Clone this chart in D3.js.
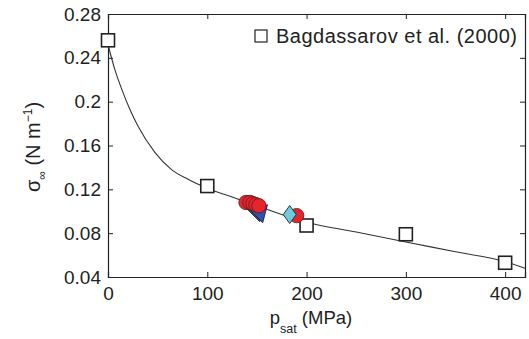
<!DOCTYPE html>
<html>
<head>
<meta charset="utf-8">
<script src="https://cdn.jsdelivr.net/npm/d3@7"></script>
<style>
body{margin:0;background:#fff}
text{font-family:"Liberation Sans",Arial,sans-serif;fill:#222}
</style>
</head>
<body>
<div></div>
<script>
// data
const xTicks = [0, 100, 200, 300, 400]
const yTicks = [0.04, 0.08, 0.12, 0.16, 0.2, 0.24, 0.28]

const bagP = [0, 100, 200, 300, 400]
const bagS = [0.256, 0.123, 0.087, 0.079, 0.053]

const fitP = [0, 7, 14, 22, 30, 47, 64, 81, 100, 125, 150, 200, 250, 300, 350, 400, 420]
const fitS = [0.252, 0.229, 0.211, 0.193, 0.178, 0.154, 0.138, 0.129, 0.121, 0.113, 0.105, 0.090, 0.081, 0.072, 0.063, 0.054, 0.048]

const blueP = [150, 153]
const blueS = [0.100, 0.099]
const redP = [139, 143, 146, 149, 152, 190]
const redS = [0.108, 0.108, 0.107, 0.106, 0.105, 0.096]
const cyanP = [183]
const cyanS = [0.097]

const W = 529, H = 339
const margin = {top:14, right:4, bottom:62, left:108}
const pw = W - margin.left - margin.right
const ph = H - margin.top - margin.bottom

function translate(x,y){return `translate(${x}, ${y})`}

const svg = d3.select("div").append("svg").attr("width", W).attr("height", H)
const g = svg.append("g").attr("transform", translate(margin.left, margin.top))

const x = d3.scaleLinear().domain([0, 420]).range([0, pw])
const y = d3.scaleLinear().domain([0.04, 0.28]).range([ph, 0])

// axes, ticks pointing inward, mirrored
const fmt = d => d3.format("")(+d.toFixed(2))
g.append("g").attr("transform", translate(0, ph))
  .call(d3.axisBottom(x).tickValues(xTicks).tickSize(-5).tickPadding(10))
g.append("g").attr("transform", translate(0, 0))
  .call(d3.axisTop(x).tickValues(xTicks).tickSize(-5).tickFormat(""))
g.append("g")
  .call(d3.axisLeft(y).tickValues(yTicks).tickSize(-5).tickPadding(7).tickFormat(fmt))
g.append("g").attr("transform", translate(pw, 0))
  .call(d3.axisRight(y).tickValues(yTicks).tickSize(-5).tickFormat(""))
g.selectAll(".domain").attr("stroke", "#222").attr("stroke-width", 1.2)
g.selectAll(".tick line").attr("stroke", "#222")
g.selectAll(".tick text").attr("font-size", 19).attr("fill", "#222")
  .attr("font-family", "Liberation Sans, Arial, sans-serif")

// fitted curve
const line = d3.line().x(d => x(d[0])).y(d => y(d[1])).curve(d3.curveMonotoneX)
g.append("path").datum(d3.zip(fitP, fitS))
  .attr("d", line).attr("fill", "none").attr("stroke", "#333").attr("stroke-width", 1.1)

// Bagdassarov squares
const sq = 13
g.selectAll("rect.bag").data(d3.zip(bagP, bagS)).join("rect").attr("class", "bag")
  .attr("x", d => x(d[0]) - sq/2).attr("y", d => y(d[1]) - sq/2)
  .attr("width", sq).attr("height", sq)
  .attr("fill", "#fff").attr("stroke", "#222").attr("stroke-width", 1.6)

// blue triangles (pointing down), drawn under the circles
const tri = d3.symbol().type(d3.symbolTriangle).size(150)
g.selectAll("path.blue").data(d3.zip(blueP, blueS)).join("path").attr("class", "blue")
  .attr("d", tri)
  .attr("transform", d => translate(x(d[0]), y(d[1])) + " rotate(165)")
  .attr("fill", "#3452a3").attr("stroke", "#1a2040").attr("stroke-width", 0.8)

// red circles
g.selectAll("circle.red").data(d3.zip(redP, redS)).join("circle").attr("class", "red")
  .attr("cx", d => x(d[0])).attr("cy", d => y(d[1])).attr("r", 7.2)
  .attr("fill", "#e5242b").attr("stroke", "#5a1a1a").attr("stroke-width", 0.8)

// cyan diamond
g.selectAll("path.cyan").data(d3.zip(cyanP, cyanS)).join("path").attr("class", "cyan")
  .attr("d", d => `M0,-9L6.5,0L0,9L-6.5,0Z`)
  .attr("transform", d => translate(x(d[0]), y(d[1])))
  .attr("fill", "#6dcbdb").attr("stroke", "#1f3a45").attr("stroke-width", 1)

// legend
svg.append("rect").attr("x", 255).attr("y", 30).attr("width", 12).attr("height", 12)
  .attr("fill", "#fff").attr("stroke", "#222").attr("stroke-width", 1.2)
svg.append("text").attr("x", 276).attr("y", 43).attr("font-size", 20)
  .attr("textLength", 241).text("Bagdassarov et al. (2000)")

// x label
const xl = svg.append("text").attr("x", 311).attr("y", 324).attr("font-size", 18.5).attr("text-anchor", "middle")
xl.append("tspan").text("p")
xl.append("tspan").attr("font-size", 12.5).attr("dy", 9).text("sat")
xl.append("tspan").attr("dy", -9).text(" (MPa)")

// y label
const yl = svg.append("text").attr("transform", translate(40, 147) + " rotate(-90)")
  .attr("font-size", 20).attr("text-anchor", "middle")
yl.append("tspan").text("σ")
yl.append("tspan").attr("font-size", 12).attr("dy", 6).text("∞")
yl.append("tspan").attr("dy", -6).text(" (N m")
yl.append("tspan").attr("font-size", 12).attr("dy", -8).text("−1")
yl.append("tspan").attr("dy", 8).text(")")
</script>
</body>
</html>
